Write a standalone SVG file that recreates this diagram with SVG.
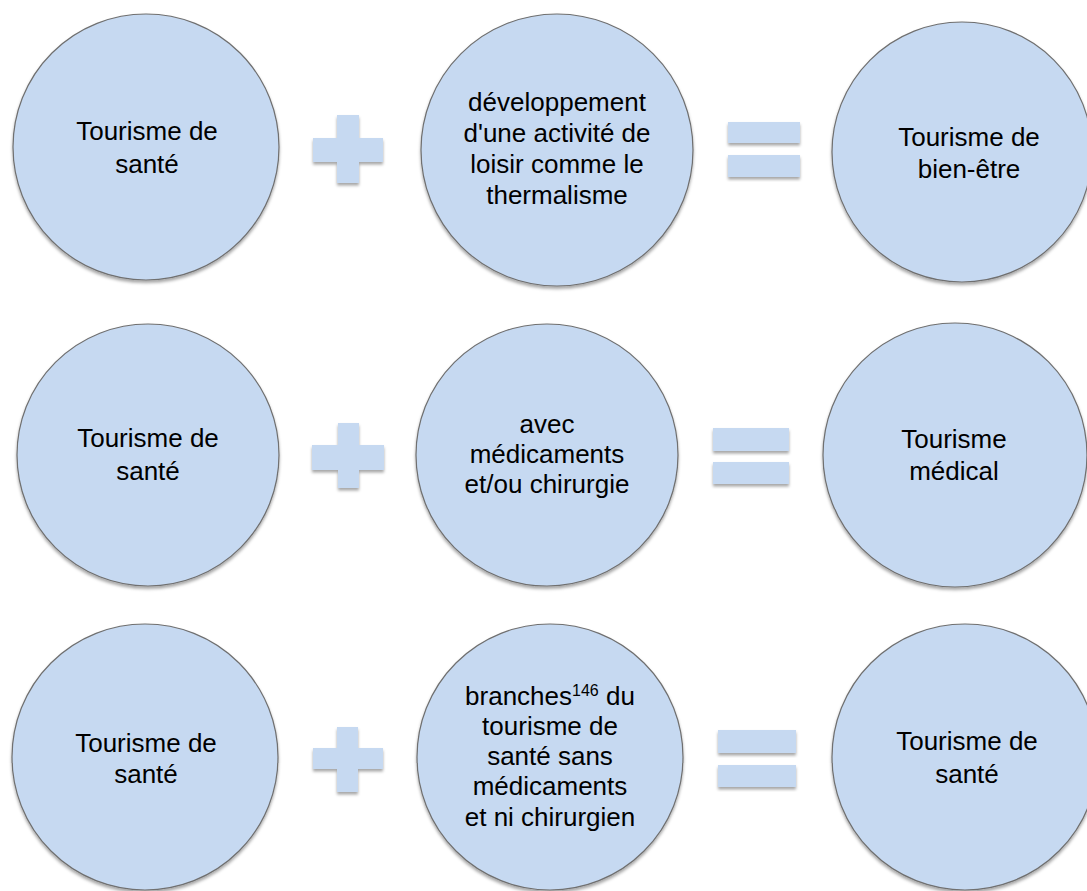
<svg xmlns="http://www.w3.org/2000/svg" width="1087" height="891" viewBox="0 0 1087 891">
<defs>
<filter id="sh" x="-20%" y="-20%" width="140%" height="140%">
<feDropShadow dx="0" dy="2.5" stdDeviation="1.6" flood-color="#000" flood-opacity="0.35"/>
</filter>
<style>
.c{fill:#C6D9F1;stroke:#6f6f6f;stroke-width:1.2;filter:url(#sh)}
.op{fill:#C6D9F1;filter:url(#sh)}
.t{font-family:"Liberation Sans",Arial,sans-serif;font-size:26px;fill:#000;text-anchor:middle}
.sup{font-size:16px}
</style>
</defs>
<rect width="1087" height="891" fill="#fff"/>

<g id="row1">
<g id="n1a"><circle class="c" cx="146" cy="147" r="133"/>
<text class="t"><tspan x="147" y="140">Tourisme de</tspan><tspan x="147" y="173">santé</tspan></text></g>
<g id="n1b"><circle class="c" cx="557" cy="150" r="136"/>
<text class="t"><tspan x="557" y="111">développement</tspan><tspan x="557" y="142">d'une activité de</tspan><tspan x="557" y="173">loisir comme le</tspan><tspan x="557" y="204">thermalisme</tspan></text></g>
<g id="n1c"><circle class="c" cx="962" cy="152" r="130"/>
<text class="t"><tspan x="969" y="146">Tourisme de</tspan><tspan x="969" y="178">bien-être</tspan></text></g>
</g>

<g id="row2">
<g id="n2a"><circle class="c" cx="148" cy="455" r="131"/>
<text class="t"><tspan x="148" y="447">Tourisme de</tspan><tspan x="148" y="480">santé</tspan></text></g>
<g id="n2b"><circle class="c" cx="547" cy="455" r="131"/>
<text class="t"><tspan x="547" y="433">avec</tspan><tspan x="547" y="463">médicaments</tspan><tspan x="547" y="493">et/ou chirurgie</tspan></text></g>
<g id="n2c"><circle class="c" cx="955" cy="455" r="132"/>
<text class="t"><tspan x="954" y="448">Tourisme</tspan><tspan x="954" y="480">médical</tspan></text></g>
</g>

<g id="row3">
<g id="n3a"><circle class="c" cx="145" cy="757" r="133"/>
<text class="t"><tspan x="146" y="752">Tourisme de</tspan><tspan x="146" y="783">santé</tspan></text></g>
<g id="n3b"><circle class="c" cx="550" cy="757" r="133"/>
<text class="t"><tspan x="550" y="705">branches<tspan class="sup" dy="-9">146</tspan><tspan dy="9"> du</tspan></tspan><tspan x="550" y="735">tourisme de</tspan><tspan x="550" y="765">santé sans</tspan><tspan x="550" y="795">médicaments</tspan><tspan x="550" y="826">et ni chirurgien</tspan></text></g>
<g id="n3c"><circle class="c" cx="965" cy="757" r="133"/>
<text class="t"><tspan x="967" y="750">Tourisme de</tspan><tspan x="967" y="783">santé</tspan></text></g>
</g>

<g id="operators">
<g id="plus1"><path class="op" d="M337 115H359V138H383V162H359V183H337V162H313V138H337Z"/></g>
<g id="eq1"><rect class="op" x="728" y="122" width="72" height="21"/><rect class="op" x="728" y="155" width="72" height="22"/></g>
<g id="plus2"><path class="op" d="M338 423H359V445H384V470H359V488H338V470H312V445H338Z"/></g>
<g id="eq2"><rect class="op" x="713" y="428" width="76" height="23"/><rect class="op" x="713" y="462" width="76" height="22"/></g>
<g id="plus3"><path class="op" d="M337 727H358V748H383V769H358V792H337V769H313V748H337Z"/></g>
<g id="eq3"><rect class="op" x="718" y="730" width="78" height="23"/><rect class="op" x="718" y="765" width="78" height="22"/></g>
</g>
</svg>
